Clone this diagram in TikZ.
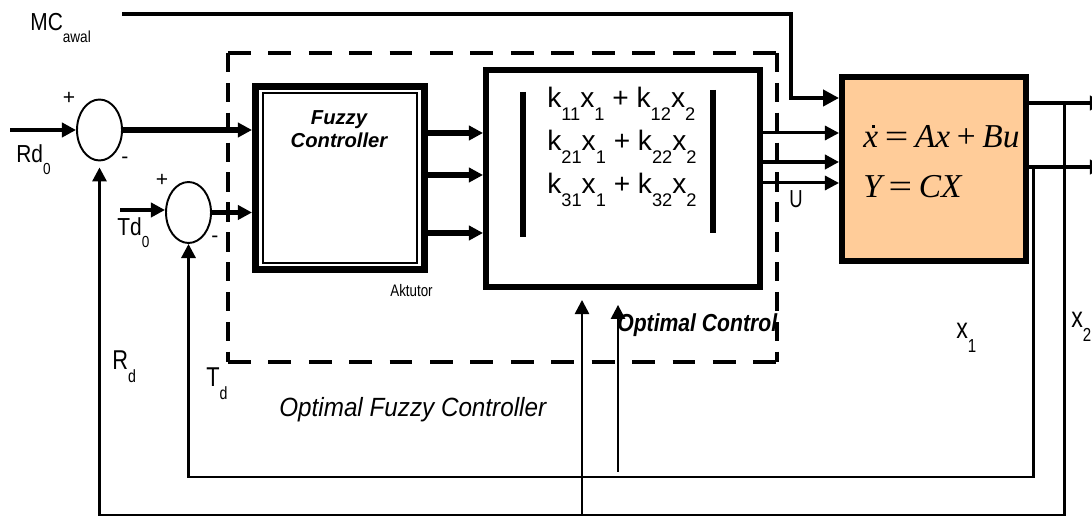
\documentclass[tikz,border=0pt]{standalone}
\usepackage{fontspec}
\setmainfont{Liberation Sans}
\newfontfamily\tnr{Liberation Serif}
\usetikzlibrary{arrows.meta,shapes.geometric}
\newcommand{\lsub}[1]{\raisebox{-0.45em}{\scalebox{0.65}{#1}}}
\newcommand{\cnd}[1]{\scalebox{0.85}[1]{#1}}
\newcommand{\dotx}{\ooalign{x\cr\hidewidth\kern0.16em\raisebox{0.6em}{\rule{0.08em}{0.08em}}\hidewidth\cr}}
\definecolor{peach}{RGB}{255,204,153}
\begin{document}
\begin{tikzpicture}[x=0.02cm,y=-0.02cm,
  >={Triangle[length=8pt,width=8pt]},
  lbl/.style={inner sep=0pt, anchor=base west},
  sumnode/.style={ellipse, draw, line width=1.1pt, minimum width=0.9cm, minimum height=1.22cm, inner sep=0pt},
  fb/.style={line width=1.7pt},
  dashh/.style={line width=2.7pt, dash pattern=on 13pt off 10pt},
  dashv/.style={line width=2.4pt, dash pattern=on 11pt off 6pt},
  big/.style={font=\fontsize{14}{14}\selectfont},
  sgn/.style={font=\fontsize{12}{12}\selectfont, inner sep=0pt}
]
\useasboundingbox (0,0) rectangle (1092,519);
\clip (0,0) rectangle (1092,519);

% dashed frame
\draw[dashh] (228,53) -- (777,53);
\draw[dashh] (228,362) -- (777,362);
\draw[dashv] (228,53) -- (228,362);
\draw[dashv] (777,53) -- (777,362);

% summing junctions
\node[sumnode] (s1) at (99.5,130) {};
\node[sumnode] (s2) at (188.5,212.5) {};

% fuzzy controller
\node[draw, line width=4pt, minimum width=3.38cm, minimum height=3.66cm, inner sep=0pt] (fz) at (340,178) {};
\draw[line width=1.1pt] (263,93) rectangle (417,263);
\node[anchor=base, inner sep=0pt, font=\bfseries\itshape\fontsize{11.5}{12}\selectfont] (fzt1) at (339,125) {Fuzzy};
\node[anchor=base, inner sep=0pt, font=\bfseries\itshape\fontsize{11.5}{12}\selectfont] (fzt2) at (339,148) {Controller};
\node[lbl, font=\fontsize{9.5}{10}\selectfont] (akt) at (390,297) {\scalebox{0.8}[1]{Aktutor}};

% optimal control gain box
\node[draw, line width=3.4pt, minimum width=5.48cm, minimum height=4.34cm, inner sep=0pt] (op) at (623,178.5) {};
\draw[line width=3.4pt] (523,92) -- (523,237);
\draw[line width=3.4pt] (713,90) -- (713,233);
\node[lbl, font=\fontsize{16}{16}\selectfont] (k1) at (547,108) {k\lsub{11}x\lsub{1} + k\lsub{12}x\lsub{2}};
\node[lbl, font=\fontsize{16}{16}\selectfont] (k2) at (547,151) {k\lsub{21}x\lsub{1} + k\lsub{22}x\lsub{2}};
\node[lbl, font=\fontsize{16}{16}\selectfont] (k3) at (547,194) {k\lsub{31}x\lsub{1} + k\lsub{32}x\lsub{2}};

% plant
\node[draw, fill=peach, line width=3.4pt, minimum width=3.68cm, minimum height=3.68cm, inner sep=0pt] (pl) at (934,169) {};
\node[lbl, font=\tnr\itshape\fontsize{19}{19}\selectfont] (eq1) at (863,148) {\dotx\hspace{0.2em}{\upshape\scalebox{1.25}[1]{=}}\hspace{0.2em}Ax\hspace{0.2em}{\upshape +}\hspace{0.2em}Bu};
\node[lbl, font=\tnr\itshape\fontsize{19}{19}\selectfont] (eq2) at (863,198) {Y\hspace{0.2em}{\upshape\scalebox{1.25}[1]{=}}\hspace{0.2em}CX};

% coordinates
\coordinate (rdin) at (10,130);
\coordinate (tdin) at (120,210);
\coordinate (ya) at (0,133);
\coordinate (yb) at (0,175);
\coordinate (yc) at (0,233);
\coordinate (yd) at (0,133);
\coordinate (ye) at (0,162);
\coordinate (yf) at (0,183);
\coordinate (mc0) at (122,14);
\coordinate (mck) at (791,98);
\coordinate (oy1) at (1104,103);
\coordinate (oy2) at (1104,167);
\coordinate (x2t) at (1064,103);
\coordinate (x1t) at (1033,167);
\coordinate (yb2) at (0,515);
\coordinate (yb1) at (0,477);
\coordinate (u1) at (582,515);
\coordinate (u2) at (618,472);

% connectors
\draw[->, line width=2.3pt] (rdin) -- (s1.west);
\draw[->, line width=3.2pt] (s1.east) -- (s1.east -| fz.west);
\draw[->, line width=2.3pt] (tdin) -- (tdin -| s2.west);
\draw[->, line width=2.8pt] (s2.east) -- (s2.east -| fz.west);
\draw[->, line width=3.2pt] (fz.east |- ya) -- (op.west |- ya);
\draw[->, line width=3.2pt] (fz.east |- yb) -- (op.west |- yb);
\draw[->, line width=3.2pt] (fz.east |- yc) -- (op.west |- yc);
\draw[->, line width=1.7pt] (op.east |- yd) -- (pl.west |- yd);
\draw[->, line width=2.8pt] (op.east |- ye) -- (pl.west |- ye);
\draw[->, line width=1.7pt] (op.east |- yf) -- (pl.west |- yf);
\draw[->, line width=2.5pt, >={Triangle[length=9pt,width=9pt]}] (mc0) -| (mck) -- (mck -| pl.west);
\draw[->, line width=2.3pt] (pl.east |- oy1) -- (oy1);
\draw[->, line width=2.3pt] (pl.east |- oy2) -- (oy2);
\draw[->, fb, shorten >=3.4pt] (x2t) |- (yb2 -| s1.south) -- (s1.south);
\draw[->, fb] (x1t) |- (yb1 -| s2.south) -- (s2.south);
\draw[->, line width=1.4pt, shorten >=5.7pt] (u1) -- (u1 |- op.south);
\draw[->, line width=1.4pt, shorten >=8.5pt] (u2) -- (u2 |- op.south);

% labels
\node[lbl, big] (mcl) at (30,31) {\cnd{MC\lsub{awal}}};
\node[lbl, big] (rdl) at (16,163) {\cnd{Rd\lsub{0}}};
\node[lbl, big] (tdl) at (117,236) {\cnd{Td\lsub{0}}};
\node[sgn] (p1) at (69,98) {+};
\node[sgn] (m1) at (125,160) {-};
\node[sgn] (p2) at (162,180) {+};
\node[sgn] (m2) at (215,239) {-};
\node[lbl, font=\fontsize{15.5}{15.5}\selectfont] (rdfb) at (112,370) {\scalebox{0.8}[1]{R\lsub{d}}};
\node[lbl, font=\fontsize{15.5}{15.5}\selectfont] (tdfb) at (206,387) {\scalebox{0.8}[1]{T\lsub{d}}};
\node[lbl, font=\fontsize{16.5}{16.5}\selectfont] (x1l) at (956,339) {\scalebox{0.8}[1]{x\lsub{1}}};
\node[lbl, font=\fontsize{16.5}{16.5}\selectfont] (x2l) at (1071,328) {\scalebox{0.8}[1]{x\lsub{2}}};
\node[lbl, font=\fontsize{14}{14}\selectfont] (ul) at (789,208) {\scalebox{0.75}[1]{U}};
\node[lbl, font=\itshape\fontsize{15}{15}\selectfont] (ofc) at (279,417) {\scalebox{0.92}[1]{Optimal Fuzzy Controller}};
\node[lbl, font=\bfseries\itshape\fontsize{14}{14}\selectfont] (oc) at (617,332) {\scalebox{0.86}[1]{Optimal Control}};
\end{tikzpicture}
\end{document}
